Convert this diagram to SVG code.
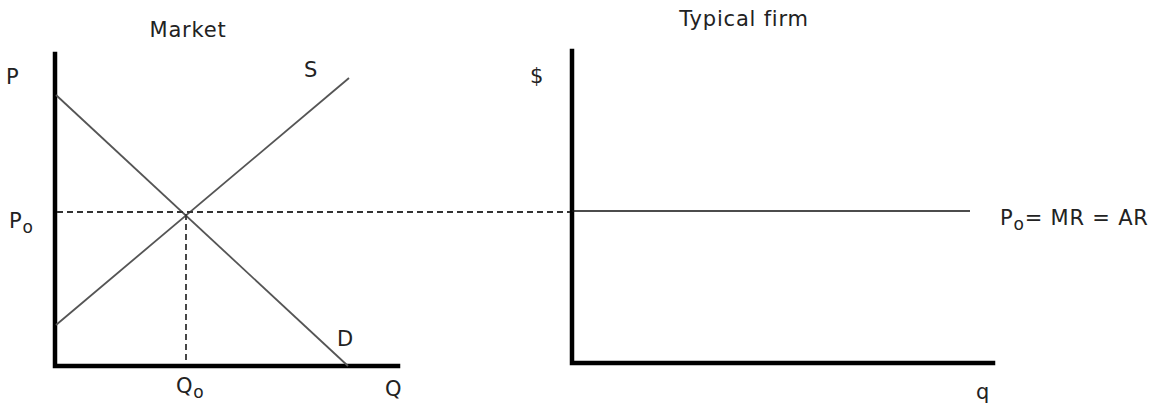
<svg xmlns="http://www.w3.org/2000/svg" width="1155" height="404" viewBox="0 0 1155 404">
<style>
text{font-family:"DejaVu Sans","Liberation Sans",sans-serif;font-size:21px;letter-spacing:0.8px;fill:#222}
.ax{stroke:#000;stroke-width:4.5;fill:none;stroke-linecap:square}
.cv{stroke:#555;stroke-width:1.8;fill:none}
.ds{stroke:#333;stroke-width:1.8;stroke-dasharray:6,4;fill:none}
.sub{font-size:17px}
</style>
<rect width="1155" height="404" fill="#fff"/>
<g id="market-axes">
<path class="ax" d="M55,54 V366 H398"/>
</g>
<g id="firm-axes">
<path class="ax" d="M572,51 V363 H993"/>
</g>
<g id="connectors">
<line class="cv" x1="56" y1="95" x2="348" y2="366"/>
<line class="cv" x1="56" y1="325" x2="349" y2="78"/>
<line class="ds" x1="57" y1="212" x2="570" y2="212"/>
<line class="ds" x1="186" y1="214" x2="186" y2="364"/>
<line x1="572" y1="211" x2="970" y2="211" stroke="#111" stroke-width="1.5"/>
</g>
<g id="labels">
<text x="188" y="37" text-anchor="middle">Market</text>
<text x="744" y="26" text-anchor="middle">Typical firm</text>
<text x="6" y="84">P</text>
<text x="304" y="77">S</text>
<text x="9" y="228">P<tspan class="sub" dy="5">o</tspan></text>
<text x="337" y="346">D</text>
<text x="176" y="393">Q<tspan class="sub" dy="5">o</tspan></text>
<text x="385" y="396">Q</text>
<text x="530" y="83">$</text>
<text x="1000" y="225">P<tspan class="sub" dy="5">o</tspan><tspan dy="-5">= MR = AR</tspan></text>
<text x="976" y="399">q</text>
</g>
</svg>
